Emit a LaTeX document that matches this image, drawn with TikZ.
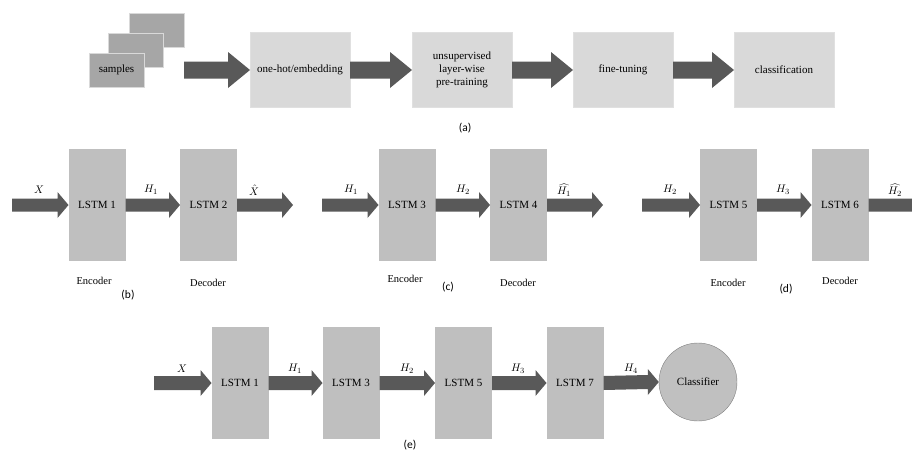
\documentclass[tikz,border=0pt]{standalone}
\usepackage{fontspec}
\setmainfont{Liberation Serif}
\newfontfamily\capfont{Carlito}
\usetikzlibrary{calc}
\definecolor{arrowc}{HTML}{595959}
\definecolor{lstmc}{HTML}{BFBFBF}
\definecolor{stagec}{HTML}{D9D9D9}
\definecolor{samplec}{HTML}{A6A6A6}
\definecolor{circc}{HTML}{C0C0C0}
\newcommand\blockarr[5]{%
  \fill[arrowc] ($(#1)+(0,-#3)$) -- ($(#2)+(-#5,-#3)$) -- ($(#2)+(-#5,-#4)$) -- (#2)
    -- ($(#2)+(-#5,#4)$) -- ($(#2)+(-#5,#3)$) -- ($(#1)+(0,#3)$) -- cycle;}
\tikzset{
  lstm/.style={rectangle, fill=lstmc, minimum width=57pt, minimum height=112pt, inner sep=0pt, outer sep=0pt, font=\fontsize{11}{13}\selectfont},
  stage/.style={rectangle, fill=stagec, draw=black!12, minimum width=100pt, minimum height=75pt, inner sep=0pt, outer sep=0pt, align=center, font=\fontsize{11}{13}\selectfont},
  sample/.style={rectangle, fill=samplec, draw=black!15, minimum width=55pt, minimum height=34pt, inner sep=0pt, outer sep=0pt, font=\fontsize{11}{13}\selectfont},
  lbl/.style={inner sep=0pt, font=\fontsize{11}{13}\selectfont},
  role/.style={inner sep=0pt, font=\fontsize{10.5}{12}\selectfont},
  subcap/.style={inner sep=0pt, font=\capfont\fontsize{11.5}{13}\selectfont},
}
\begin{document}
\begin{tikzpicture}[x=1pt, y=-1pt]
\clip (0,0) rectangle (912,450);
\fill[white] (0,0) rectangle (912,450);
% ---------- (a)
\node[sample] (s3) at (156.5,30) {};
\node[sample] (s2) at (136,50) {};
\node[sample] (s1) at (116.5,70) {samples};
\coordinate (s0) at (184,70);
\node[stage] (a1) at (300,70) {one-hot/embedding};
\node[stage] (a2) at (462,70) {unsupervised\\layer-wise\\pre-training};
\node[stage] (a3) at (623,70) {fine-tuning};
\node[stage] (a4) at (784,70) {classification};
\blockarr{s0}{a1.west}{8.5}{18}{22}
\blockarr{a1.east}{a2.west}{8.5}{18}{22}
\blockarr{a2.east}{a3.west}{8.5}{18}{22}
\blockarr{a3.east}{a4.west}{8.5}{18}{22}
\node[subcap] (capa) at (465,128) {(a)};
% ---------- (b)
\node[lstm] (b1) at (97,205) {LSTM 1};
\node[lstm] (b2) at (208.5,205) {LSTM 2};
\coordinate (bin) at (12,205);
\coordinate (bout) at (293,205);
\blockarr{bin}{b1.west}{6.5}{13}{11}
\blockarr{b1.east}{b2.west}{6.5}{13}{11}
\blockarr{b2.east}{bout}{6.5}{13}{11}
\node[lbl] (lbx) at (39,190) {$X$};
\node[lbl] (lbh) at (151,190) {$H_1$};
\node[lbl] (lbxh) at (254,190) {$\hat{X}$};
\node[role] (be) at (94,281) {Encoder};
\node[role] (bd) at (208,283) {Decoder};
\node[subcap] (capb) at (128,295) {(b)};
% ---------- (c)
\node[lstm] (c3) at (407,205) {LSTM 3};
\node[lstm] (c4) at (518.5,205) {LSTM 4};
\coordinate (cin) at (322,205);
\coordinate (cout) at (603,205);
\blockarr{cin}{c3.west}{6.5}{13}{11}
\blockarr{c3.east}{c4.west}{6.5}{13}{11}
\blockarr{c4.east}{cout}{6.5}{13}{11}
\node[lbl] (lch1) at (351,190) {$H_1$};
\node[lbl] (lch2) at (463,190) {$H_2$};
\node[lbl] (lch1h) at (564,190) {$\widehat{H_1}$};
\node[role] (ce) at (405,279) {Encoder};
\node[role] (cd) at (518,283) {Decoder};
\node[subcap] (capc) at (448,287) {(c)};
% ---------- (d)
\node[lstm] (d5) at (728.5,205) {LSTM 5};
\node[lstm] (d6) at (840,205) {LSTM 6};
\coordinate (din) at (642,205);
\coordinate (dout) at (926,205);
\blockarr{din}{d5.west}{6.5}{13}{11}
\blockarr{d5.east}{d6.west}{6.5}{13}{11}
\blockarr{d6.east}{dout}{6.5}{13}{11}
\node[lbl] (ldh2) at (670,190) {$H_2$};
\node[lbl] (ldh3) at (783,190) {$H_3$};
\node[lbl] (ldh2h) at (895,190) {$\widehat{H_2}$};
\node[role] (de) at (728,283) {Encoder};
\node[role] (dd) at (840,281) {Decoder};
\node[subcap] (capd) at (786,289) {(d)};
% ---------- (e)
\node[lstm] (e1) at (240,383) {LSTM 1};
\node[lstm] (e3) at (351,383) {LSTM 3};
\node[lstm] (e5) at (463.5,383) {LSTM 5};
\node[lstm] (e7) at (575,383) {LSTM 7};
\node[circle, fill=circc, draw=black!50, minimum size=78pt, inner sep=0pt, font=\fontsize{11}{13}\selectfont] (cls) at (698,382) {Classifier};
\coordinate (ein) at (154,383);
\blockarr{ein}{e1.west}{7}{13}{11}
\blockarr{e1.east}{e3.west}{7}{13}{11}
\blockarr{e3.east}{e5.west}{7}{13}{11}
\blockarr{e5.east}{e7.west}{7}{13}{11}
\blockarr{e7.east}{cls.west}{7}{13}{11}
\node[lbl] (lex) at (182,369) {$X$};
\node[lbl] (leh1) at (295,369) {$H_1$};
\node[lbl] (leh2) at (407,369) {$H_2$};
\node[lbl] (leh3) at (518,369) {$H_3$};
\node[lbl] (leh4) at (631,369) {$H_4$};
\node[subcap] (cape) at (410,445) {(e)};
\end{tikzpicture}
\end{document}
